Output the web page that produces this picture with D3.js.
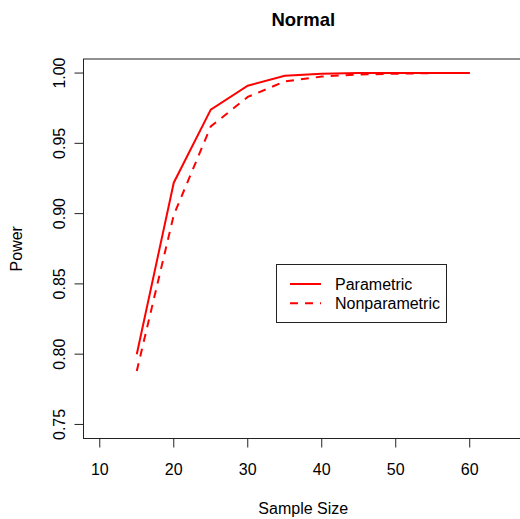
<!DOCTYPE html>
<html><head><meta charset="utf-8">
<script src="https://cdn.jsdelivr.net/npm/d3@7"></script>
<style>body{margin:0;background:#fff}svg{display:block}text{font-family:"Liberation Sans",Arial,sans-serif}</style>
</head><body>
<script>
const sampleSizes = [15, 20, 25, 30, 35, 40, 45, 50, 55, 60];
const parametric = [0.800, 0.922, 0.974, 0.991, 0.998, 0.9995, 1.0, 1.0, 1.0, 1.0];
const nonparametric = [0.788, 0.899, 0.962, 0.983, 0.994, 0.9975, 0.999, 0.9995, 1.0, 1.0];
const xTicks = [10, 20, 30, 40, 50, 60];
const yTicks = [0.75, 0.80, 0.85, 0.90, 0.95, 1.00];
const seriesNames = ["Parametric", "Nonparametric"];

const W = 520, H = 519;
const L = 83.5, R = 523, T = 59, B = 438.5;
const svg = d3.select("body").append("svg").attr("width", W).attr("height", H);

const x = d3.scaleLinear().domain([7.8, 67.2]).range([L, R]);
const y = d3.scaleLinear().domain([0.74, 1.01]).range([B, T]);

// box
svg.append("rect").attr("x", L).attr("y", T).attr("width", R - L).attr("height", B - T)
  .attr("fill", "none").attr("stroke", "#222").attr("stroke-width", 1);

// x axis
const xa = svg.append("g");
xa.append("line").attr("x1", x(xTicks[0])).attr("x2", x(xTicks[xTicks.length-1]))
  .attr("y1", B).attr("y2", B).attr("stroke", "#222");
xTicks.forEach(t => {
  xa.append("line").attr("x1", x(t)).attr("x2", x(t)).attr("y1", B).attr("y2", B + 9).attr("stroke", "#222");
  xa.append("text").attr("x", x(t)).attr("y", 475).attr("text-anchor", "middle")
    .attr("font-size", 16).text(d3.format("d")(t));
});

// y axis
const ya = svg.append("g");
ya.append("line").attr("x1", L).attr("x2", L).attr("y1", y(yTicks[0])).attr("y2", y(yTicks[yTicks.length-1])).attr("stroke", "#222");
yTicks.forEach(t => {
  ya.append("line").attr("x1", L - 9).attr("x2", L).attr("y1", y(t)).attr("y2", y(t)).attr("stroke", "#222");
  ya.append("text").attr("transform", `translate(65,${y(t)}) rotate(-90)`).attr("text-anchor", "middle")
    .attr("font-size", 16).text(d3.format(".2f")(t));
});

// labels
svg.append("text").attr("x", (L + R) / 2).attr("y", 26).attr("text-anchor", "middle")
  .attr("font-size", 18.5).attr("font-weight", "bold").text("Normal");
svg.append("text").attr("x", (L + R) / 2).attr("y", 514).attr("text-anchor", "middle")
  .attr("font-size", 16).text("Sample Size");
svg.append("text").attr("transform", `translate(22,${(T + B) / 2}) rotate(-90)`).attr("text-anchor", "middle")
  .attr("font-size", 16).text("Power");

// lines
const line = d3.line().x((d, i) => x(sampleSizes[i])).y(d => y(d));
svg.append("path").datum(parametric).attr("d", line).attr("fill", "none")
  .attr("stroke", "#ff0000").attr("stroke-width", 2);
svg.append("path").datum(nonparametric).attr("d", line).attr("fill", "none")
  .attr("stroke", "#ff0000").attr("stroke-width", 2).attr("stroke-dasharray", "8,7");

// legend
const lg = svg.append("g");
lg.append("rect").attr("x", 276.5).attr("y", 264.5).attr("width", 170).attr("height", 58)
  .attr("fill", "#fff").attr("stroke", "#222");
seriesNames.forEach((n, i) => {
  const yy = 284 + i * 19.3;
  lg.append("line").attr("x1", 290).attr("x2", 321).attr("y1", yy).attr("y2", yy)
    .attr("stroke", "#ff0000").attr("stroke-width", 2).attr("stroke-dasharray", i ? "8,7" : null);
  lg.append("text").attr("x", 335).attr("y", yy + 5.5).attr("font-size", 16).text(n);
});
</script>
</body></html>
